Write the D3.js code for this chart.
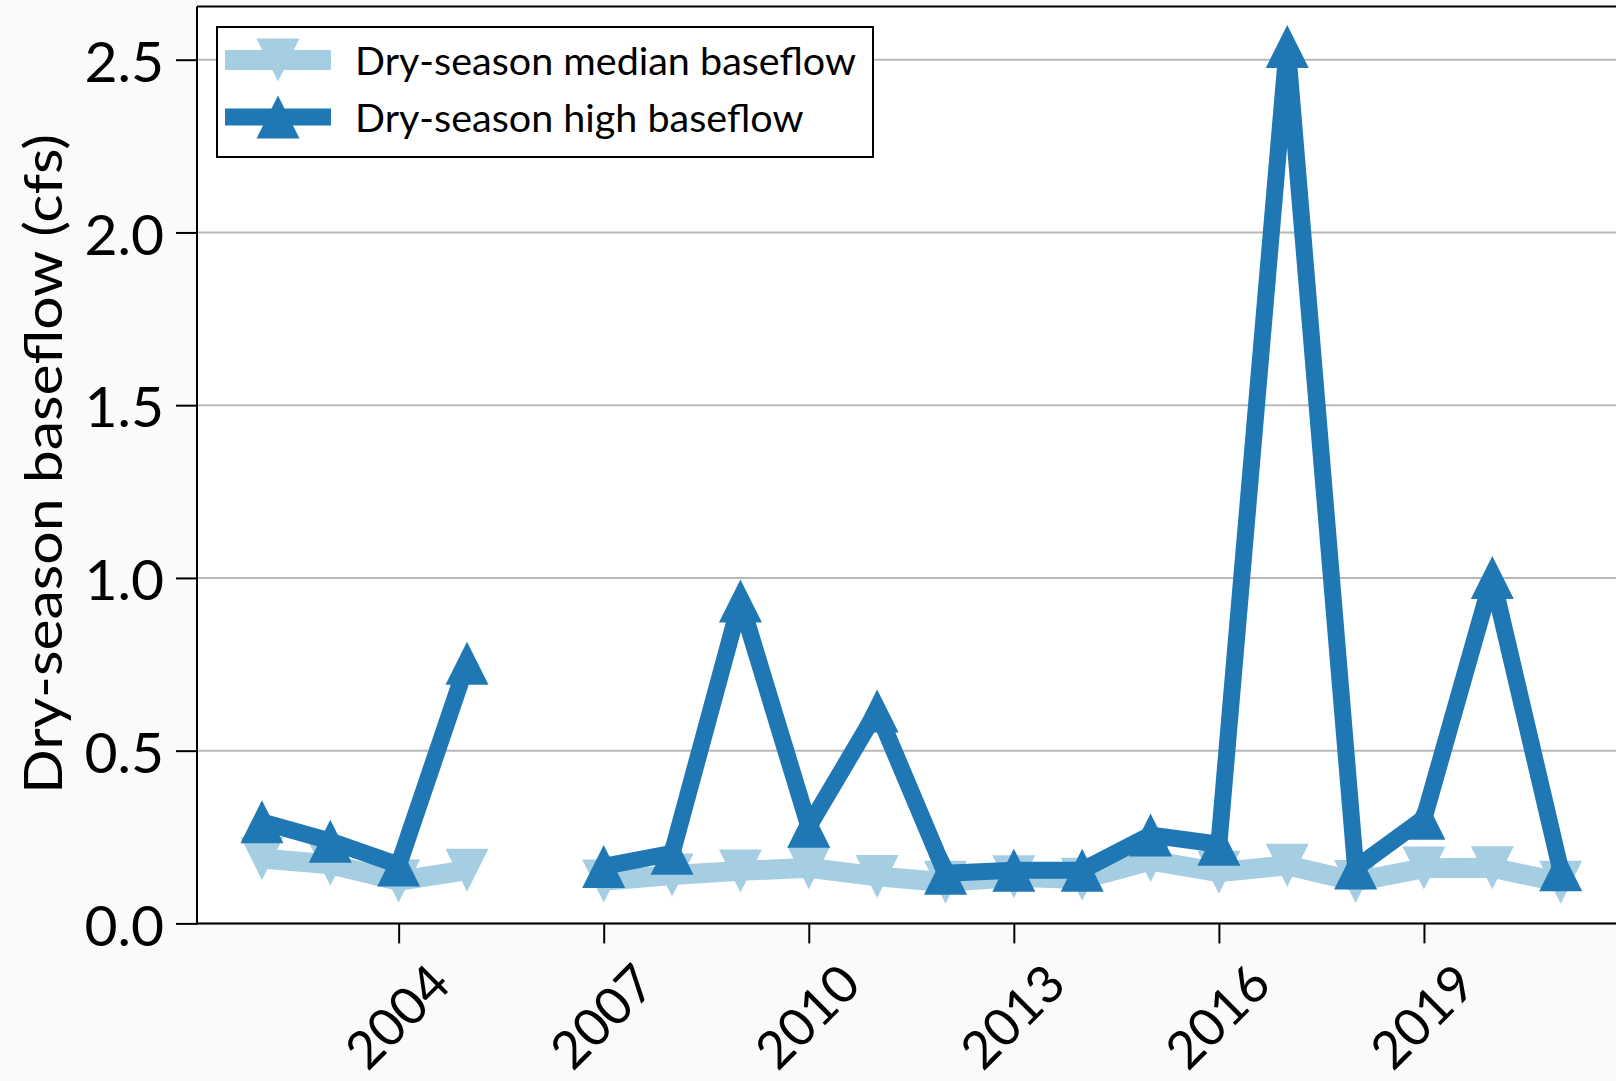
<!DOCTYPE html>
<html>
<head>
<meta charset="utf-8">
<script src="https://cdn.jsdelivr.net/npm/d3@7"></script>
<style>
  html, body { margin: 0; padding: 0; background: #f9fafc; }
  svg { display: block; }
  text { font-family: Lato, "Open Sans", sans-serif; fill: #000; }
</style>
</head>
<body>
<svg id="chart" width="1616" height="1081"></svg>
<script>
// Dry-season baseflow per year (cfs); 2006 has no record.
const years = [2002, 2003, 2004, 2005, 2006, 2007, 2008, 2009, 2010, 2011,
               2012, 2013, 2014, 2015, 2016, 2017, 2018, 2019, 2020, 2021];
const medianFlow = [0.188, 0.171, 0.123, 0.154, null, 0.123, 0.140, 0.152, 0.161, 0.136,
                    0.119, 0.135, 0.128, 0.182, 0.148, 0.168, 0.121, 0.160, 0.161, 0.119];
const highFlow = [0.294, 0.238, 0.169, 0.753, null, 0.165, 0.203, 0.933, 0.281, 0.615,
                  0.145, 0.154, 0.154, 0.256, 0.229, 2.538, 0.160, 0.304, 1.001, 0.155];
const seriesNames = ["Dry-season median baseflow", "Dry-season high baseflow"];
const yTicks = [0.0, 0.5, 1.0, 1.5, 2.0, 2.5];
const xTicks = [2004, 2007, 2010, 2013, 2016, 2019];
const yLabel = "Dry-season baseflow (cfs)";

const lightBlue = "#a6cee3";
const darkBlue = "#1f78b4";
const markerSize = 43;

const svg = d3.select("#chart");
const plot = { left: 197, right: 1625.6, top: 6.5, bottom: 923.4 };

const x = d3.scaleLinear().domain([2001.05, 2021.95]).range([plot.left, plot.right]);
const y = d3.scaleLinear().domain([0, 2.654]).range([plot.bottom, plot.top]);

// axes background
svg.append("rect")
  .attr("x", plot.left).attr("y", plot.top)
  .attr("width", plot.right - plot.left).attr("height", plot.bottom - plot.top)
  .attr("fill", "#ffffff");

// horizontal grid
svg.append("g").selectAll("line").data(yTicks).join("line")
  .attr("x1", plot.left).attr("x2", plot.right)
  .attr("y1", d => y(d)).attr("y2", d => y(d))
  .attr("stroke", "#b8b8b8").attr("stroke-width", 2);

// triangle marker paths centred on the data point
const triUp = s => `M0,${-s / 2}L${s / 2},${s / 2}L${-s / 2},${s / 2}Z`;
const triDown = s => `M0,${s / 2}L${s / 2},${-s / 2}L${-s / 2},${-s / 2}Z`;

function drawSeries(values, color, width, markerPath) {
  const pts = years.map((yr, i) => ({ yr, v: values[i] }));
  const line = d3.line()
    .defined(d => d.v !== null)
    .x(d => x(d.yr)).y(d => y(d.v));
  const g = svg.append("g");
  g.append("path").datum(pts)
    .attr("d", line)
    .attr("fill", "none").attr("stroke", color)
    .attr("stroke-width", width).attr("stroke-linejoin", "miter")
    .attr("stroke-miterlimit", 2);
  g.selectAll("path.m").data(pts.filter(d => d.v !== null)).join("path")
    .attr("class", "m")
    .attr("d", markerPath(markerSize))
    .attr("transform", d => `translate(${x(d.yr)},${y(d.v)})`)
    .attr("fill", color);
}

drawSeries(medianFlow, lightBlue, 20, triDown);
drawSeries(highFlow, darkBlue, 17, triUp);

// y axis
const yAxis = svg.append("g")
  .attr("transform", `translate(${plot.left},0)`)
  .call(d3.axisLeft(y).tickValues(yTicks).tickFormat(d3.format(".1f"))
    .tickSize(21).tickPadding(12));
yAxis.select(".domain").remove();
yAxis.selectAll(".tick line").attr("stroke", "#000").attr("stroke-width", 2);
yAxis.selectAll(".tick text")
  .attr("dy", "0.38em")
  .style("font-family", "Lato, 'Open Sans', sans-serif")
  .style("font-size", "57px").attr("fill", "#000");

// x axis
const xAxis = svg.append("g")
  .attr("transform", `translate(0,${plot.bottom})`)
  .call(d3.axisBottom(x).tickValues(xTicks).tickFormat(d3.format("d")).tickSize(20));
xAxis.select(".domain").remove();
xAxis.selectAll(".tick line").attr("stroke", "#000").attr("stroke-width", 2);
xAxis.selectAll(".tick text").remove();
const xFont = 52;
xAxis.selectAll(".tick").append("text")
  .attr("transform", `translate(-2,${93}) rotate(-45)`)
  .attr("text-anchor", "middle")
  .attr("y", 0.36 * xFont)
  .style("font-size", xFont + "px")
  .text(d => d3.format("d")(d));

// spines
svg.append("line").attr("x1", plot.left).attr("x2", plot.left)
  .attr("y1", plot.top).attr("y2", plot.bottom + 1)
  .attr("stroke", "#000").attr("stroke-width", 2);
svg.append("line").attr("x1", plot.left).attr("x2", plot.right)
  .attr("y1", plot.bottom).attr("y2", plot.bottom)
  .attr("stroke", "#000").attr("stroke-width", 2);
svg.append("line").attr("x1", plot.left).attr("x2", plot.right)
  .attr("y1", plot.top).attr("y2", plot.top)
  .attr("stroke", "#000").attr("stroke-width", 2);

// y axis title
svg.append("text")
  .attr("transform", "translate(62,464) rotate(-90)")
  .attr("text-anchor", "middle")
  .attr("textLength", 660).attr("lengthAdjust", "spacingAndGlyphs")
  .style("font-size", "53px")
  .text(yLabel);

// legend
const legend = svg.append("g");
legend.append("rect")
  .attr("x", 217).attr("y", 27).attr("width", 656).attr("height", 130)
  .attr("fill", "#ffffff").attr("stroke", "#000").attr("stroke-width", 2);
const legendItems = [
  { name: seriesNames[0], color: lightBlue, width: 20, marker: triDown, cy: 60 },
  { name: seriesNames[1], color: darkBlue, width: 17, marker: triUp, cy: 117 }
];
legendItems.forEach(it => {
  legend.append("line")
    .attr("x1", 225).attr("x2", 331).attr("y1", it.cy).attr("y2", it.cy)
    .attr("stroke", it.color).attr("stroke-width", it.width);
  legend.append("path")
    .attr("d", it.marker(markerSize))
    .attr("transform", `translate(278,${it.cy})`)
    .attr("fill", it.color);
  legend.append("text")
    .attr("x", 355).attr("y", it.cy + 15)
    .style("font-size", "39.5px")
    .text(it.name);
});
</script>
</body>
</html>
